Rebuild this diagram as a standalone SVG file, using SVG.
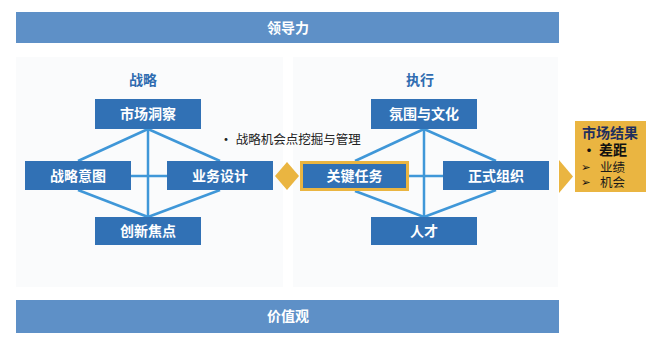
<svg xmlns="http://www.w3.org/2000/svg" width="660" height="348" viewBox="0 0 660 348">
<style>
.bar{fill:#5e90c7}
.panel{fill:#fafbfc}
.box{fill:#3171b5}
.bt{font-family:"Noto Sans CJK SC",sans-serif;font-size:14px;font-weight:bold;fill:#ffffff;text-anchor:middle}
.ttl{font-family:"Noto Sans CJK SC",sans-serif;font-size:14px;font-weight:bold;fill:#2f6cb0;text-anchor:middle}
.ln{stroke:#3f97d8;stroke-width:2.5;fill:none}
.yl{fill:#eab541}
.rt{font-family:"Noto Sans CJK SC",sans-serif}
.ar{font-family:"DejaVu Sans",sans-serif;font-size:11.5px;fill:#111111;font-weight:normal}
</style>
<rect width="660" height="348" fill="#ffffff"/>
<g id="leadership">
<rect class="bar" x="16" y="12" width="543" height="31"/>
<text class="bt" x="288" y="33">领导力</text>
</g>
<g id="panel-strategy">
<rect class="panel" x="16" y="57" width="267" height="230"/>
<text class="ttl" x="143" y="85">战略</text>
</g>
<g id="panel-execution">
<rect class="panel" x="293" y="57" width="265" height="230"/>
<text class="ttl" x="420" y="85">执行</text>
</g>
<g id="values">
<rect class="bar" x="16" y="300" width="543" height="33"/>
<text class="bt" x="288" y="321">价值观</text>
</g>
<g id="connectors">
<line class="ln" x1="148" y1="129" x2="78" y2="161"/>
<line class="ln" x1="148" y1="129" x2="220" y2="161"/>
<line class="ln" x1="78" y1="190" x2="148" y2="217"/>
<line class="ln" x1="220" y1="190" x2="148" y2="217"/>
<line class="ln" x1="148" y1="129" x2="148" y2="217"/>
<line class="ln" x1="131" y1="176" x2="167" y2="176"/>
<line class="ln" x1="424" y1="129" x2="355" y2="161"/>
<line class="ln" x1="424" y1="129" x2="496" y2="161"/>
<line class="ln" x1="355" y1="191" x2="424" y2="217"/>
<line class="ln" x1="496" y1="190" x2="424" y2="217"/>
<line class="ln" x1="424" y1="129" x2="424" y2="217"/>
<line class="ln" x1="409" y1="176" x2="443" y2="176"/>
<polygon class="yl" points="287,162 299,176 287,190 275,176"/>
<polygon class="yl" points="559,160 573,176.5 559,193"/>
</g>
<g id="node-market-insight">
<rect class="box" x="95" y="99" width="106" height="30"/>
<text class="bt" x="148" y="119">市场洞察</text>
</g>
<g id="node-strategic-intent">
<rect class="box" x="25" y="161" width="106" height="29"/>
<text class="bt" x="78" y="180.5">战略意图</text>
</g>
<g id="node-business-design">
<rect class="box" x="167" y="161" width="106" height="29"/>
<text class="bt" x="220" y="180.5">业务设计</text>
</g>
<g id="node-innovation-focus">
<rect class="box" x="95" y="217" width="106" height="28"/>
<text class="bt" x="148" y="236">创新焦点</text>
</g>
<g id="note">
<text class="rt" x="219" y="144" font-size="12.5" fill="#222222"><tspan font-size="14">•</tspan>  战略机会点挖掘与管理</text>
</g>
<g id="node-climate-culture">
<rect class="box" x="371" y="99" width="106" height="30"/>
<text class="bt" x="424" y="119">氛围与文化</text>
</g>
<g id="node-critical-tasks">
<rect class="box" x="301.5" y="162.5" width="106" height="27" stroke="#eab541" stroke-width="3"/>
<text class="bt" x="354.5" y="180.5">关键任务</text>
</g>
<g id="node-formal-org">
<rect class="box" x="443" y="161" width="106" height="29"/>
<text class="bt" x="496" y="180.5">正式组织</text>
</g>
<g id="node-talent">
<rect class="box" x="371" y="217" width="106" height="28"/>
<text class="bt" x="424" y="236">人才</text>
</g>
<g id="node-market-results">
<rect class="yl" x="575" y="121" width="71" height="71"/>
<text class="rt" font-size="14" font-weight="bold" fill="#111111"><tspan x="582" y="138" fill="#1f2f5e">市场结果</tspan><tspan x="582" y="155">•</tspan><tspan x="599" y="155">差距</tspan><tspan class="ar" x="581" y="171">➢</tspan><tspan x="600" y="171.5" font-size="12.5" font-weight="normal" fill="#1a1a1a">业绩</tspan><tspan class="ar" x="581" y="186">➢</tspan><tspan x="600" y="186.5" font-size="12.5" font-weight="normal" fill="#1a1a1a">机会</tspan></text>
</g>
</svg>
